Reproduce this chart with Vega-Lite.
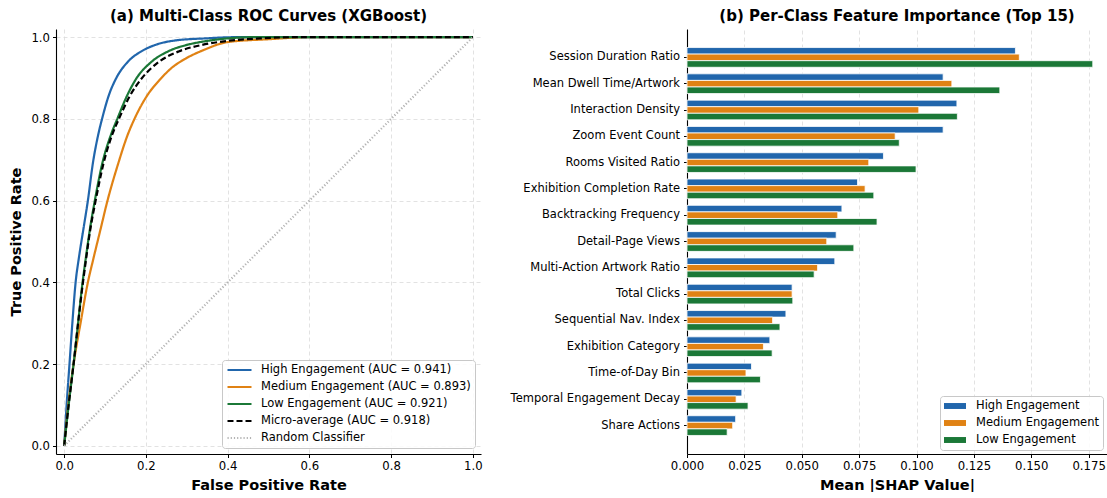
{
  "$schema": "https://vega.github.io/schema/vega-lite/v6.json",
  "padding": {"left": 8, "top": 9, "right": 0, "bottom": 0},
  "spacing": 27,
  "resolve": {
    "scale": {"color": "independent", "strokeDash": "independent", "strokeWidth": "independent"},
    "legend": {"color": "independent", "strokeDash": "independent", "strokeWidth": "independent"}
  },
  "config": {
    "font": "DejaVu Sans",
    "view": {"stroke": null},
    "axis": {
      "domainColor": "#000000",
      "domainWidth": 1.1,
      "tickColor": "#000000",
      "tickSize": 3.5,
      "tickWidth": 1,
      "labelFontSize": 11.7,
      "labelColor": "#000000",
      "labelPadding": 3,
      "labelFlush": false,
      "titleFontSize": 14.5,
      "titleFontWeight": "bold",
      "titleColor": "#000000",
      "gridColor": "#dadada",
      "gridDash": [4, 3],
      "gridWidth": 0.8
    },
    "title": {"fontSize": 15, "fontWeight": "bold", "color": "#000000", "offset": 5},
    "legend": {
      "title": null,
      "labelFontSize": 11.5,
      "labelColor": "#000000",
      "labelLimit": 0,
      "fillColor": "rgba(255,255,255,0.85)",
      "strokeColor": "#c8c8c8",
      "cornerRadius": 3,
      "padding": 4,
      "rowPadding": 5,
      "clipHeight": 12,
      "labelOffset": 8,
      "offset": 6
    }
  },
  "datasets": {
    "roc": [
      {"series": "High Engagement (AUC = 0.941)", "fpr": 0.0, "tpr": 0.0},
      {"series": "High Engagement (AUC = 0.941)", "fpr": 0.006, "tpr": 0.1},
      {"series": "High Engagement (AUC = 0.941)", "fpr": 0.013, "tpr": 0.2},
      {"series": "High Engagement (AUC = 0.941)", "fpr": 0.020, "tpr": 0.3},
      {"series": "High Engagement (AUC = 0.941)", "fpr": 0.028, "tpr": 0.4},
      {"series": "High Engagement (AUC = 0.941)", "fpr": 0.036, "tpr": 0.46},
      {"series": "High Engagement (AUC = 0.941)", "fpr": 0.047, "tpr": 0.53},
      {"series": "High Engagement (AUC = 0.941)", "fpr": 0.058, "tpr": 0.60},
      {"series": "High Engagement (AUC = 0.941)", "fpr": 0.070, "tpr": 0.69},
      {"series": "High Engagement (AUC = 0.941)", "fpr": 0.083, "tpr": 0.76},
      {"series": "High Engagement (AUC = 0.941)", "fpr": 0.094, "tpr": 0.805},
      {"series": "High Engagement (AUC = 0.941)", "fpr": 0.109, "tpr": 0.857},
      {"series": "High Engagement (AUC = 0.941)", "fpr": 0.127, "tpr": 0.899},
      {"series": "High Engagement (AUC = 0.941)", "fpr": 0.156, "tpr": 0.940},
      {"series": "High Engagement (AUC = 0.941)", "fpr": 0.190, "tpr": 0.966},
      {"series": "High Engagement (AUC = 0.941)", "fpr": 0.223, "tpr": 0.981},
      {"series": "High Engagement (AUC = 0.941)", "fpr": 0.272, "tpr": 0.992},
      {"series": "High Engagement (AUC = 0.941)", "fpr": 0.345, "tpr": 0.997},
      {"series": "High Engagement (AUC = 0.941)", "fpr": 0.420, "tpr": 1.0},
      {"series": "High Engagement (AUC = 0.941)", "fpr": 1.0, "tpr": 1.0},

      {"series": "Medium Engagement (AUC = 0.893)", "fpr": 0.0, "tpr": 0.0},
      {"series": "Medium Engagement (AUC = 0.893)", "fpr": 0.010, "tpr": 0.1},
      {"series": "Medium Engagement (AUC = 0.893)", "fpr": 0.023, "tpr": 0.2},
      {"series": "Medium Engagement (AUC = 0.893)", "fpr": 0.040, "tpr": 0.3},
      {"series": "Medium Engagement (AUC = 0.893)", "fpr": 0.058, "tpr": 0.4},
      {"series": "Medium Engagement (AUC = 0.893)", "fpr": 0.072, "tpr": 0.46},
      {"series": "Medium Engagement (AUC = 0.893)", "fpr": 0.089, "tpr": 0.53},
      {"series": "Medium Engagement (AUC = 0.893)", "fpr": 0.106, "tpr": 0.60},
      {"series": "Medium Engagement (AUC = 0.893)", "fpr": 0.132, "tpr": 0.69},
      {"series": "Medium Engagement (AUC = 0.893)", "fpr": 0.155, "tpr": 0.76},
      {"series": "Medium Engagement (AUC = 0.893)", "fpr": 0.172, "tpr": 0.80},
      {"series": "Medium Engagement (AUC = 0.893)", "fpr": 0.203, "tpr": 0.857},
      {"series": "Medium Engagement (AUC = 0.893)", "fpr": 0.235, "tpr": 0.897},
      {"series": "Medium Engagement (AUC = 0.893)", "fpr": 0.262, "tpr": 0.924},
      {"series": "Medium Engagement (AUC = 0.893)", "fpr": 0.298, "tpr": 0.948},
      {"series": "Medium Engagement (AUC = 0.893)", "fpr": 0.340, "tpr": 0.968},
      {"series": "Medium Engagement (AUC = 0.893)", "fpr": 0.400, "tpr": 0.988},
      {"series": "Medium Engagement (AUC = 0.893)", "fpr": 0.500, "tpr": 0.995},
      {"series": "Medium Engagement (AUC = 0.893)", "fpr": 0.600, "tpr": 1.0},
      {"series": "Medium Engagement (AUC = 0.893)", "fpr": 1.0, "tpr": 1.0},

      {"series": "Low Engagement (AUC = 0.921)", "fpr": 0.0, "tpr": 0.0},
      {"series": "Low Engagement (AUC = 0.921)", "fpr": 0.011, "tpr": 0.1},
      {"series": "Low Engagement (AUC = 0.921)", "fpr": 0.023, "tpr": 0.2},
      {"series": "Low Engagement (AUC = 0.921)", "fpr": 0.034, "tpr": 0.3},
      {"series": "Low Engagement (AUC = 0.921)", "fpr": 0.045, "tpr": 0.4},
      {"series": "Low Engagement (AUC = 0.921)", "fpr": 0.053, "tpr": 0.46},
      {"series": "Low Engagement (AUC = 0.921)", "fpr": 0.063, "tpr": 0.53},
      {"series": "Low Engagement (AUC = 0.921)", "fpr": 0.075, "tpr": 0.60},
      {"series": "Low Engagement (AUC = 0.921)", "fpr": 0.093, "tpr": 0.69},
      {"series": "Low Engagement (AUC = 0.921)", "fpr": 0.114, "tpr": 0.76},
      {"series": "Low Engagement (AUC = 0.921)", "fpr": 0.130, "tpr": 0.80},
      {"series": "Low Engagement (AUC = 0.921)", "fpr": 0.154, "tpr": 0.857},
      {"series": "Low Engagement (AUC = 0.921)", "fpr": 0.176, "tpr": 0.898},
      {"series": "Low Engagement (AUC = 0.921)", "fpr": 0.214, "tpr": 0.940},
      {"series": "Low Engagement (AUC = 0.921)", "fpr": 0.256, "tpr": 0.966},
      {"series": "Low Engagement (AUC = 0.921)", "fpr": 0.304, "tpr": 0.982},
      {"series": "Low Engagement (AUC = 0.921)", "fpr": 0.345, "tpr": 0.990},
      {"series": "Low Engagement (AUC = 0.921)", "fpr": 0.400, "tpr": 0.997},
      {"series": "Low Engagement (AUC = 0.921)", "fpr": 0.460, "tpr": 1.0},
      {"series": "Low Engagement (AUC = 0.921)", "fpr": 1.0, "tpr": 1.0},

      {"series": "Micro-average (AUC = 0.918)", "fpr": 0.0, "tpr": 0.0},
      {"series": "Micro-average (AUC = 0.918)", "fpr": 0.011, "tpr": 0.1},
      {"series": "Micro-average (AUC = 0.918)", "fpr": 0.023, "tpr": 0.2},
      {"series": "Micro-average (AUC = 0.918)", "fpr": 0.034, "tpr": 0.3},
      {"series": "Micro-average (AUC = 0.918)", "fpr": 0.046, "tpr": 0.4},
      {"series": "Micro-average (AUC = 0.918)", "fpr": 0.054, "tpr": 0.46},
      {"series": "Micro-average (AUC = 0.918)", "fpr": 0.064, "tpr": 0.53},
      {"series": "Micro-average (AUC = 0.918)", "fpr": 0.077, "tpr": 0.60},
      {"series": "Micro-average (AUC = 0.918)", "fpr": 0.096, "tpr": 0.69},
      {"series": "Micro-average (AUC = 0.918)", "fpr": 0.117, "tpr": 0.76},
      {"series": "Micro-average (AUC = 0.918)", "fpr": 0.134, "tpr": 0.80},
      {"series": "Micro-average (AUC = 0.918)", "fpr": 0.160, "tpr": 0.855},
      {"series": "Micro-average (AUC = 0.918)", "fpr": 0.188, "tpr": 0.897},
      {"series": "Micro-average (AUC = 0.918)", "fpr": 0.231, "tpr": 0.939},
      {"series": "Micro-average (AUC = 0.918)", "fpr": 0.280, "tpr": 0.965},
      {"series": "Micro-average (AUC = 0.918)", "fpr": 0.337, "tpr": 0.981},
      {"series": "Micro-average (AUC = 0.918)", "fpr": 0.400, "tpr": 0.991},
      {"series": "Micro-average (AUC = 0.918)", "fpr": 0.480, "tpr": 0.997},
      {"series": "Micro-average (AUC = 0.918)", "fpr": 0.570, "tpr": 1.0},
      {"series": "Micro-average (AUC = 0.918)", "fpr": 1.0, "tpr": 1.0},

      {"series": "Random Classifier", "fpr": 0.0, "tpr": 0.0},
      {"series": "Random Classifier", "fpr": 1.0, "tpr": 1.0}
    ],
    "shap": [
      {"feature": "Session Duration Ratio", "cls": "High Engagement", "value": 0.1431},
      {"feature": "Session Duration Ratio", "cls": "Medium Engagement", "value": 0.1448},
      {"feature": "Session Duration Ratio", "cls": "Low Engagement", "value": 0.1768},
      {"feature": "Mean Dwell Time/Artwork", "cls": "High Engagement", "value": 0.1116},
      {"feature": "Mean Dwell Time/Artwork", "cls": "Medium Engagement", "value": 0.1154},
      {"feature": "Mean Dwell Time/Artwork", "cls": "Low Engagement", "value": 0.1363},
      {"feature": "Interaction Density", "cls": "High Engagement", "value": 0.1176},
      {"feature": "Interaction Density", "cls": "Medium Engagement", "value": 0.1010},
      {"feature": "Interaction Density", "cls": "Low Engagement", "value": 0.1178},
      {"feature": "Zoom Event Count", "cls": "High Engagement", "value": 0.1116},
      {"feature": "Zoom Event Count", "cls": "Medium Engagement", "value": 0.0907},
      {"feature": "Zoom Event Count", "cls": "Low Engagement", "value": 0.0925},
      {"feature": "Rooms Visited Ratio", "cls": "High Engagement", "value": 0.0856},
      {"feature": "Rooms Visited Ratio", "cls": "Medium Engagement", "value": 0.0792},
      {"feature": "Rooms Visited Ratio", "cls": "Low Engagement", "value": 0.0998},
      {"feature": "Exhibition Completion Rate", "cls": "High Engagement", "value": 0.0743},
      {"feature": "Exhibition Completion Rate", "cls": "Medium Engagement", "value": 0.0776},
      {"feature": "Exhibition Completion Rate", "cls": "Low Engagement", "value": 0.0814},
      {"feature": "Backtracking Frequency", "cls": "High Engagement", "value": 0.0675},
      {"feature": "Backtracking Frequency", "cls": "Medium Engagement", "value": 0.0657},
      {"feature": "Backtracking Frequency", "cls": "Low Engagement", "value": 0.0828},
      {"feature": "Detail-Page Views", "cls": "High Engagement", "value": 0.0650},
      {"feature": "Detail-Page Views", "cls": "Medium Engagement", "value": 0.0609},
      {"feature": "Detail-Page Views", "cls": "Low Engagement", "value": 0.0727},
      {"feature": "Multi-Action Artwork Ratio", "cls": "High Engagement", "value": 0.0644},
      {"feature": "Multi-Action Artwork Ratio", "cls": "Medium Engagement", "value": 0.0569},
      {"feature": "Multi-Action Artwork Ratio", "cls": "Low Engagement", "value": 0.0554},
      {"feature": "Total Clicks", "cls": "High Engagement", "value": 0.0458},
      {"feature": "Total Clicks", "cls": "Medium Engagement", "value": 0.0458},
      {"feature": "Total Clicks", "cls": "Low Engagement", "value": 0.0461},
      {"feature": "Sequential Nav. Index", "cls": "High Engagement", "value": 0.0431},
      {"feature": "Sequential Nav. Index", "cls": "Medium Engagement", "value": 0.0373},
      {"feature": "Sequential Nav. Index", "cls": "Low Engagement", "value": 0.0405},
      {"feature": "Exhibition Category", "cls": "High Engagement", "value": 0.0361},
      {"feature": "Exhibition Category", "cls": "Medium Engagement", "value": 0.0333},
      {"feature": "Exhibition Category", "cls": "Low Engagement", "value": 0.0371},
      {"feature": "Time-of-Day Bin", "cls": "High Engagement", "value": 0.0281},
      {"feature": "Time-of-Day Bin", "cls": "Medium Engagement", "value": 0.0257},
      {"feature": "Time-of-Day Bin", "cls": "Low Engagement", "value": 0.0320},
      {"feature": "Temporal Engagement Decay", "cls": "High Engagement", "value": 0.0239},
      {"feature": "Temporal Engagement Decay", "cls": "Medium Engagement", "value": 0.0214},
      {"feature": "Temporal Engagement Decay", "cls": "Low Engagement", "value": 0.0266},
      {"feature": "Share Actions", "cls": "High Engagement", "value": 0.0212},
      {"feature": "Share Actions", "cls": "Medium Engagement", "value": 0.0199},
      {"feature": "Share Actions", "cls": "Low Engagement", "value": 0.0175}
    ]
  },
  "hconcat": [
    {
      "width": 425,
      "height": 425,
      "title": {"text": "(a) Multi-Class ROC Curves (XGBoost)"},
      "data": {"name": "roc"},
      "mark": {"type": "line", "interpolate": "monotone"},
      "encoding": {
        "x": {
          "field": "fpr",
          "type": "quantitative",
          "scale": {"domain": [-0.02, 1.02], "nice": false, "zero": false},
          "axis": {"values": [0, 0.2, 0.4, 0.6, 0.8, 1.0], "format": ".1f", "title": "False Positive Rate", "titlePadding": 6}
        },
        "y": {
          "field": "tpr",
          "type": "quantitative",
          "scale": {"domain": [-0.02, 1.02], "nice": false, "zero": false},
          "axis": {"values": [0, 0.2, 0.4, 0.6, 0.8, 1.0], "format": ".1f", "title": "True Positive Rate", "titlePadding": 7}
        },
        "color": {
          "field": "series",
          "type": "ordinal",
          "scale": {
            "domain": ["High Engagement (AUC = 0.941)", "Medium Engagement (AUC = 0.893)", "Low Engagement (AUC = 0.921)", "Micro-average (AUC = 0.918)", "Random Classifier"],
            "range": ["#2166ac", "#e08214", "#1b7837", "#000000", "#b3b3b3"]
          },
          "legend": {"orient": "bottom-right", "symbolType": "stroke", "symbolSize": 576, "symbolStrokeWidth": 2}
        },
        "strokeDash": {
          "field": "series",
          "type": "ordinal",
          "scale": {
            "domain": ["High Engagement (AUC = 0.941)", "Medium Engagement (AUC = 0.893)", "Low Engagement (AUC = 0.921)", "Micro-average (AUC = 0.918)", "Random Classifier"],
            "range": [[1, 0], [1, 0], [1, 0], [6, 3], [1.2, 2]]
          },
          "legend": {"orient": "bottom-right", "symbolType": "stroke", "symbolSize": 576, "symbolStrokeWidth": 2}
        },
        "strokeWidth": {
          "field": "series",
          "type": "ordinal",
          "scale": {
            "domain": ["High Engagement (AUC = 0.941)", "Medium Engagement (AUC = 0.893)", "Low Engagement (AUC = 0.921)", "Micro-average (AUC = 0.918)", "Random Classifier"],
            "range": [2.2, 2.2, 2.2, 2, 1]
          },
          "legend": {"orient": "bottom-right", "symbolType": "stroke", "symbolSize": 576}
        }
      }
    },
    {
      "width": 420,
      "height": 425,
      "title": {"text": "(b) Per-Class Feature Importance (Top 15)"},
      "data": {"name": "shap"},
      "mark": {"type": "bar", "stroke": "#ffffff", "strokeWidth": 0.8},
      "encoding": {
        "y": {
          "field": "feature",
          "type": "nominal",
          "sort": null,
          "scale": {
            "domain": ["Session Duration Ratio", "Mean Dwell Time/Artwork", "Interaction Density", "Zoom Event Count", "Rooms Visited Ratio", "Exhibition Completion Rate", "Backtracking Frequency", "Detail-Page Views", "Multi-Action Artwork Ratio", "Total Clicks", "Sequential Nav. Index", "Exhibition Category", "Time-of-Day Bin", "Temporal Engagement Decay", "Share Actions"],
            "paddingInner": 0.25,
            "paddingOuter": 0.705
          },
          "axis": {"title": null, "labelFontSize": 11.5, "labelPadding": 4, "grid": false}
        },
        "yOffset": {
          "field": "cls",
          "type": "nominal",
          "scale": {"domain": ["High Engagement", "Medium Engagement", "Low Engagement"], "paddingInner": 0, "paddingOuter": 0}
        },
        "x": {
          "field": "value",
          "type": "quantitative",
          "scale": {"domain": [0, 0.183], "nice": false},
          "axis": {"values": [0, 0.025, 0.05, 0.075, 0.1, 0.125, 0.15, 0.175], "format": ".3f", "title": "Mean |SHAP Value|", "titlePadding": 6}
        },
        "color": {
          "field": "cls",
          "type": "nominal",
          "scale": {"domain": ["High Engagement", "Medium Engagement", "Low Engagement"], "range": ["#2166ac", "#e08214", "#1b7837"]},
          "legend": {"orient": "bottom-right", "offset": 4, "symbolType": "M-1,-0.27H1V0.27H-1Z", "symbolSize": 484, "symbolStrokeWidth": 0, "labelOffset": 10}
        }
      }
    }
  ]
}
